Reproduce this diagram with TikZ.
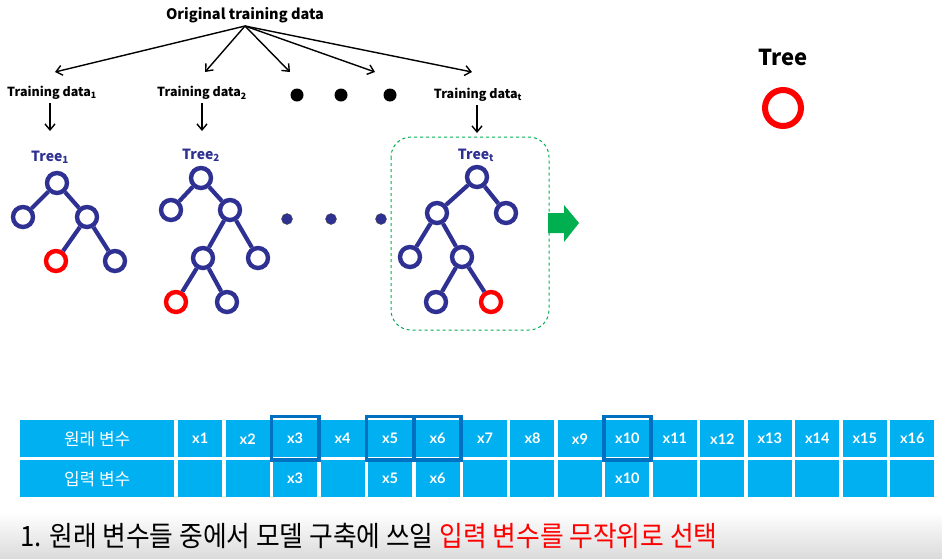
\documentclass[tikz,border=0pt]{standalone}
\usepackage{fontspec}
\setmainfont{Noto Sans CJK KR}
\newfontfamily\latofont{Lato}
\usetikzlibrary{arrows.meta}
\definecolor{navy}{HTML}{2E3192}
\definecolor{cellblue}{HTML}{00B0F0}
\definecolor{hlblue}{HTML}{0070C0}
\definecolor{grn}{HTML}{00B050}
\definecolor{myred}{HTML}{FF0000}
\tikzset{
  arr/.style={line width=1.4pt,-{Straight Barb[length=6pt,width=10pt,line width=1.4pt]}},
  lbl/.style={font=\bfseries\fontsize{12.5}{14}\selectfont, inner sep=0pt},
  tlbl/.style={font=\bfseries\fontsize{14}{16}\selectfont, text=navy, inner sep=0pt},
  tn/.style={circle, draw=navy, line width=4.4pt, minimum size=20pt, inner sep=0pt, fill=white},
  rn/.style={tn, draw=myred},
  te/.style={draw=navy, line width=4.2pt},
  bigdot/.style={circle, fill=black, minimum size=13pt, inner sep=0pt},
  ndot/.style={circle, fill=navy, draw=black!70, line width=0.4pt, minimum size=11pt, inner sep=0pt},
  cell/.style={fill=cellblue, anchor=north west, minimum width=44pt, minimum height=37pt, inner sep=0pt, text=white, font=\latofont\bfseries\fontsize{14.5}{16}\selectfont},
  hcell/.style={cell, minimum width=154pt, font=\fontsize{17}{19}\selectfont},
  hl/.style={draw=hlblue, line width=3.6pt}
}
\begin{document}
\begin{tikzpicture}[x=1pt,y=-1pt]
\useasboundingbox (0,0) rectangle (942,558);
\fill[white] (0,0) rectangle (942,558);
% bottom gradient band
\shade[top color=white, bottom color=black!14] (0,512) rectangle (942,558);

% top labels
\node[font=\bfseries\fontsize{14.5}{16}\selectfont, inner sep=0pt] (orig) at (245,15) {Original training data};
\coordinate (src) at (245,26);
\coordinate (e1) at (55,72);
\coordinate (e2) at (205,72);
\coordinate (e3) at (290,72);
\coordinate (e4) at (375,72);
\coordinate (e5) at (472,72);
\foreach \e in {e1,e2,e3,e4,e5} \draw[arr] (src) -- (\e);

\node[lbl] (td1) at (52,93) {Training data\textsubscript{1}};
\node[lbl] (td2) at (202,93) {Training data\textsubscript{2}};
\node[lbl] (tdt) at (478,95) {Training data\textsubscript{t}};
\node[bigdot] (bd1) at (297,95) {};
\node[bigdot] (bd2) at (341,95) {};
\node[bigdot] (bd3) at (390,95) {};

\coordinate (f1) at (50,131);
\coordinate (f2) at (202,131);
\coordinate (ft) at (477,133);
\draw[arr] (50,103) -- (f1);
\draw[arr] (202,103) -- (f2);
\draw[arr] (477,105) -- (ft);

% dashed box for tree t
\draw[grn, dashed, line width=1pt, rounded corners=20pt] (391,137) rectangle (549,330);

% Tree 1
\node[tlbl] (T1) at (50,157) {Tree\textsubscript{1}};
\node[tn] (a0) at (57,183) {};
\node[tn] (a1) at (23,217) {};
\node[tn] (a2) at (87,217) {};
\node[rn] (a3) at (56,261) {};
\node[tn] (a4) at (115,261) {};
\draw[te] (a0) -- (a1); \draw[te] (a0) -- (a2);
\draw[te] (a2) -- (a3); \draw[te] (a2) -- (a4);

% Tree 2
\node[tlbl] (T2) at (201,155) {Tree\textsubscript{2}};
\node[tn] (b0) at (201,178) {};
\node[tn] (b1) at (171,210) {};
\node[tn] (b2) at (230,210) {};
\node[tn] (b3) at (203,258) {};
\node[tn] (b4) at (258,258) {};
\node[rn] (b5) at (176,302) {};
\node[tn] (b6) at (227,302) {};
\draw[te] (b0) -- (b1); \draw[te] (b0) -- (b2);
\draw[te] (b2) -- (b3); \draw[te] (b2) -- (b4);
\draw[te] (b3) -- (b5); \draw[te] (b3) -- (b6);

% dots between trees
\node[ndot] (nd1) at (287,219) {};
\node[ndot] (nd2) at (331,219) {};
\node[ndot] (nd3) at (381,219) {};

% Tree t
\node[tlbl] (Tt) at (476,155) {Tree\textsubscript{t}};
\node[tn] (c0) at (477,177) {};
\node[tn] (c1) at (437,213) {};
\node[tn] (c2) at (506,213) {};
\node[tn] (c3) at (410,257) {};
\node[tn] (c4) at (462,257) {};
\node[tn] (c5) at (436,302) {};
\node[rn] (c6) at (491,302) {};
\draw[te] (c0) -- (c1); \draw[te] (c0) -- (c2);
\draw[te] (c1) -- (c3); \draw[te] (c1) -- (c4);
\draw[te] (c4) -- (c5); \draw[te] (c4) -- (c6);

% green arrow
\fill[grn] (548,213) -- (564,213) -- (564,205) -- (579,223) -- (564,242) -- (564,233) -- (548,233) -- cycle;

% Tree legend
\node[font=\bfseries\fontsize{22}{24}\selectfont, inner sep=0pt] (leg) at (783,57) {Tree};
\node[circle, draw=myred, line width=6pt, minimum size=36pt, inner sep=0pt] (legc) at (783,108) {};

% table
\node[hcell] (h1) at (20,420) {원래 변수};
\node[hcell] (h2) at (20,460) {입력 변수};
\foreach \i in {1,...,16} {
  \pgfmathsetmacro{\xl}{178+(\i-1)*47.47}
  \node[cell] (r\i) at (\xl,420) {x\i};
}
\foreach \i/\t in {1/,2/,3/x3,4/,5/x5,6/x6,7/,8/,9/,10/x10,11/,12/,13/,14/,15/,16/} {
  \pgfmathsetmacro{\xl}{178+(\i-1)*47.47}
  \node[cell] (s\i) at (\xl,460) {\t};
}
\foreach \i in {3,5,6,10} {
  \draw[hl] ([shift={(-1.5pt,-2.5pt)}]r\i.south west) rectangle ([shift={(1.5pt,3.5pt)}]r\i.north east);
}

% bottom sentence
\node[anchor=west, inner sep=0pt, font=\fontsize{28}{30}\selectfont] (bot) at (20,536) {\scalebox{0.92}[1]{1. 원래 변수들 중에서 모델 구축에 쓰일 \textcolor{myred}{입력 변수를 무작위로 선택}}};
\end{tikzpicture}
\end{document}
